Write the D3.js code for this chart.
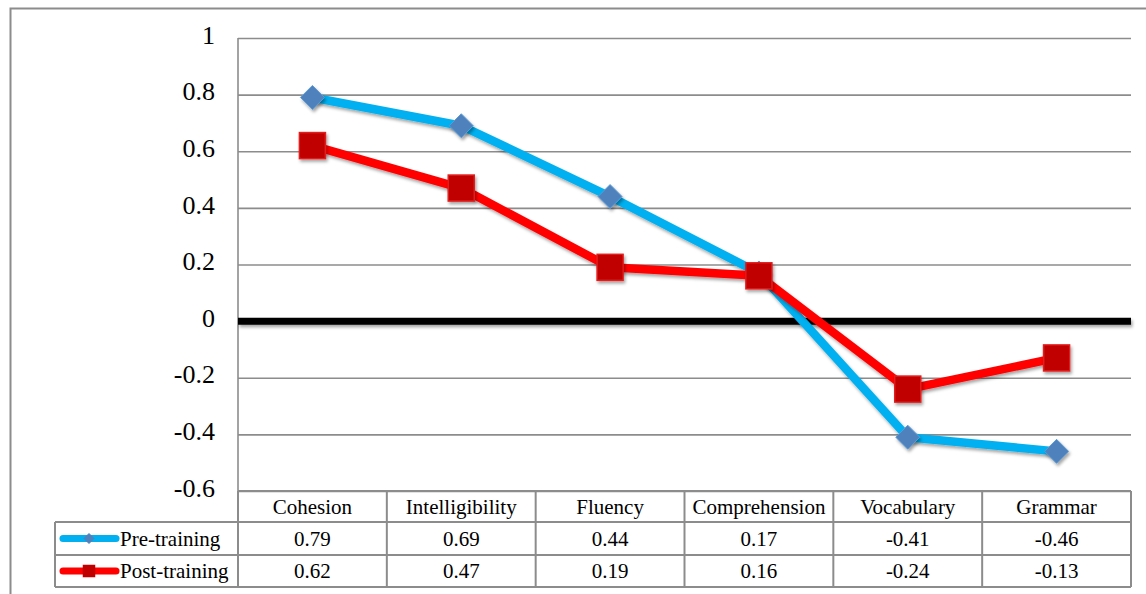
<!DOCTYPE html>
<html>
<head>
<meta charset="utf-8">
<script src="https://cdn.jsdelivr.net/npm/d3@7"></script>
<style>
  body { margin: 0; background: #fff; }
  svg text { font-family: "Liberation Serif", "Times New Roman", serif; fill: #000; }
</style>
</head>
<body>
<div id="chart"></div>
<script>
var categories = ["Cohesion", "Intelligibility", "Fluency", "Comprehension", "Vocabulary", "Grammar"];
var preTraining = [0.79, 0.69, 0.44, 0.17, -0.41, -0.46];
var postTraining = [0.62, 0.47, 0.19, 0.16, -0.24, -0.13];
var yTicks = [1, 0.8, 0.6, 0.4, 0.2, 0, -0.2, -0.4, -0.6];

var series = [
    { name: "Pre-training", values: preTraining, line: "#00b0f0", marker: "#4f81bd", shape: "diamond" },
    { name: "Post-training", values: postTraining, line: "#ff0000", marker: "#c00000", shape: "square" }
];

var W = 1146, H = 594;
var plot = { left: 238, right: 1131, top: 38, bottom: 491 };
var rowH = [31, 33, 32];   // header row, pre row, post row
var tableLeft = 55;
var grid = "#8c8c8c";

var svg = d3.select("#chart").append("svg")
    .attr("width", W)
    .attr("height", H);

// drop shadow like the office chart (user space so flat lines keep it)
var defs = svg.append("defs");
var f = defs.append("filter").attr("id", "shadow")
    .attr("filterUnits", "userSpaceOnUse")
    .attr("x", 0).attr("y", 0).attr("width", W).attr("height", H);
f.append("feDropShadow").attr("dx", 1.5).attr("dy", 2.5).attr("stdDeviation", 1.8)
    .attr("flood-color", "#000").attr("flood-opacity", 0.35);

// outer frame (left and top edges are visible)
svg.append("path")
    .attr("d", "M10.5," + H + " L10.5,8.5 L" + W + ",8.5")
    .attr("fill", "none")
    .attr("stroke", grid)
    .attr("stroke-width", 2);

var x = d3.scaleBand()
    .domain(categories)
    .range([plot.left, plot.right]);

var y = d3.scaleLinear()
    .domain([-0.6, 1])
    .range([plot.bottom, plot.top]);

// y axis with grid lines
svg.append("g")
    .attr("transform", "translate(" + plot.left + ",0)")
    .call(d3.axisLeft(y)
        .tickValues(yTicks)
        .tickSize(-(plot.right - plot.left))
        .tickPadding(23)
        .tickFormat(function (d) { return d; })
    )
    .call(g => g.select(".domain").remove())
    .call(g => g.selectAll(".tick line")
        .attr("stroke", grid)
        .attr("stroke-width", 1.6)
    )
    .call(g => g.selectAll(".tick text")
        .style("font-size", "26px")
        .attr("dy", "0.2em")
    );

// vertical axis line
svg.append("line")
    .attr("x1", plot.left).attr("x2", plot.left)
    .attr("y1", plot.top).attr("y2", plot.bottom)
    .attr("stroke", grid)
    .attr("stroke-width", 1.6);

// thick zero line
svg.append("line")
    .attr("x1", plot.left).attr("x2", plot.right)
    .attr("y1", y(0)).attr("y2", y(0))
    .attr("stroke", "#000")
    .attr("stroke-width", 7)
    .attr("filter", "url(#shadow)");

// lines
var line = d3.line()
    .x(function (d, i) { return x(categories[i]) + x.bandwidth() / 2; })
    .y(function (d) { return y(d); });

series.forEach(function (s) {
    svg.append("path")
        .datum(s.values)
        .attr("d", line)
        .attr("fill", "none")
        .attr("stroke", s.line)
        .attr("stroke-width", 8.5)
        .attr("stroke-linejoin", "round")
        .attr("filter", "url(#shadow)");
});

function drawMarker(g, shape, cx, cy, size, fill, stroke) {
    if (shape === "diamond") {
        g.append("path")
            .attr("d", "M" + cx + "," + (cy - size) + " L" + (cx + size) + "," + cy +
                " L" + cx + "," + (cy + size) + " L" + (cx - size) + "," + cy + " Z")
            .attr("fill", fill)
            .attr("stroke", stroke)
            .attr("stroke-width", 1);
    } else {
        g.append("rect")
            .attr("x", cx - size).attr("y", cy - size)
            .attr("width", size * 2).attr("height", size * 2)
            .attr("fill", fill)
            .attr("stroke", stroke)
            .attr("stroke-width", 1.5);
    }
}

// markers
series.forEach(function (s) {
    var g = svg.append("g").attr("filter", "url(#shadow)");
    s.values.forEach(function (v, i) {
        var cx = x(categories[i]) + x.bandwidth() / 2;
        if (s.shape === "diamond") drawMarker(g, "diamond", cx, y(v), 12, s.marker, "#5b9bd5");
        else drawMarker(g, "square", cx, y(v), 13, s.marker, "#e31a1a");
    });
});

// data table
var rowTop = [plot.bottom, plot.bottom + rowH[0], plot.bottom + rowH[0] + rowH[1]];
var tableBottom = rowTop[2] + rowH[2];
var table = svg.append("g");

// horizontal rules
table.append("line")
    .attr("x1", plot.left).attr("x2", plot.right)
    .attr("y1", plot.bottom).attr("y2", plot.bottom);
[rowTop[1], rowTop[2], tableBottom].forEach(function (yy) {
    table.append("line")
        .attr("x1", tableLeft).attr("x2", plot.right)
        .attr("y1", yy).attr("y2", yy);
});
// vertical rules
categories.forEach(function (c) {
    table.append("line")
        .attr("x1", x(c)).attr("x2", x(c))
        .attr("y1", plot.bottom).attr("y2", tableBottom);
});
table.append("line")
    .attr("x1", plot.right).attr("x2", plot.right)
    .attr("y1", plot.bottom).attr("y2", tableBottom);
table.append("line")
    .attr("x1", tableLeft).attr("x2", tableLeft)
    .attr("y1", rowTop[1]).attr("y2", tableBottom);
table.selectAll("line")
    .attr("stroke", grid)
    .attr("stroke-width", 2);

// header labels
table.selectAll("text.cat")
    .data(categories)
    .enter()
    .append("text")
    .attr("class", "cat")
    .attr("x", function (d) { return x(d) + x.bandwidth() / 2; })
    .attr("y", rowTop[0] + rowH[0] / 2)
    .attr("dy", "0.35em")
    .attr("text-anchor", "middle")
    .style("font-size", "21px")
    .text(function (d) { return d; });

// value rows with legend keys
series.forEach(function (s, r) {
    var cy = rowTop[r + 1] + rowH[r + 1] / 2;
    table.selectAll("text.v" + r)
        .data(s.values)
        .enter()
        .append("text")
        .attr("class", "v" + r)
        .attr("x", function (d, i) { return x(categories[i]) + x.bandwidth() / 2; })
        .attr("y", cy)
        .attr("dy", "0.35em")
        .attr("text-anchor", "middle")
        .style("font-size", "21px")
        .text(function (d) { return d; });

    table.append("line")
        .attr("x1", 63).attr("x2", 116)
        .attr("y1", cy).attr("y2", cy)
        .attr("stroke", s.line)
        .attr("stroke-width", 7)
        .attr("stroke-linecap", "round");
    if (s.shape === "diamond") drawMarker(table, "diamond", 89, cy, 5, s.marker, s.marker);
    else drawMarker(table, "square", 89, cy, 5.5, s.marker, s.marker);

    table.append("text")
        .attr("x", 120)
        .attr("y", cy)
        .attr("dy", "0.35em")
        .style("font-size", "21px")
        .text(s.name);
});
</script>
</body>
</html>
